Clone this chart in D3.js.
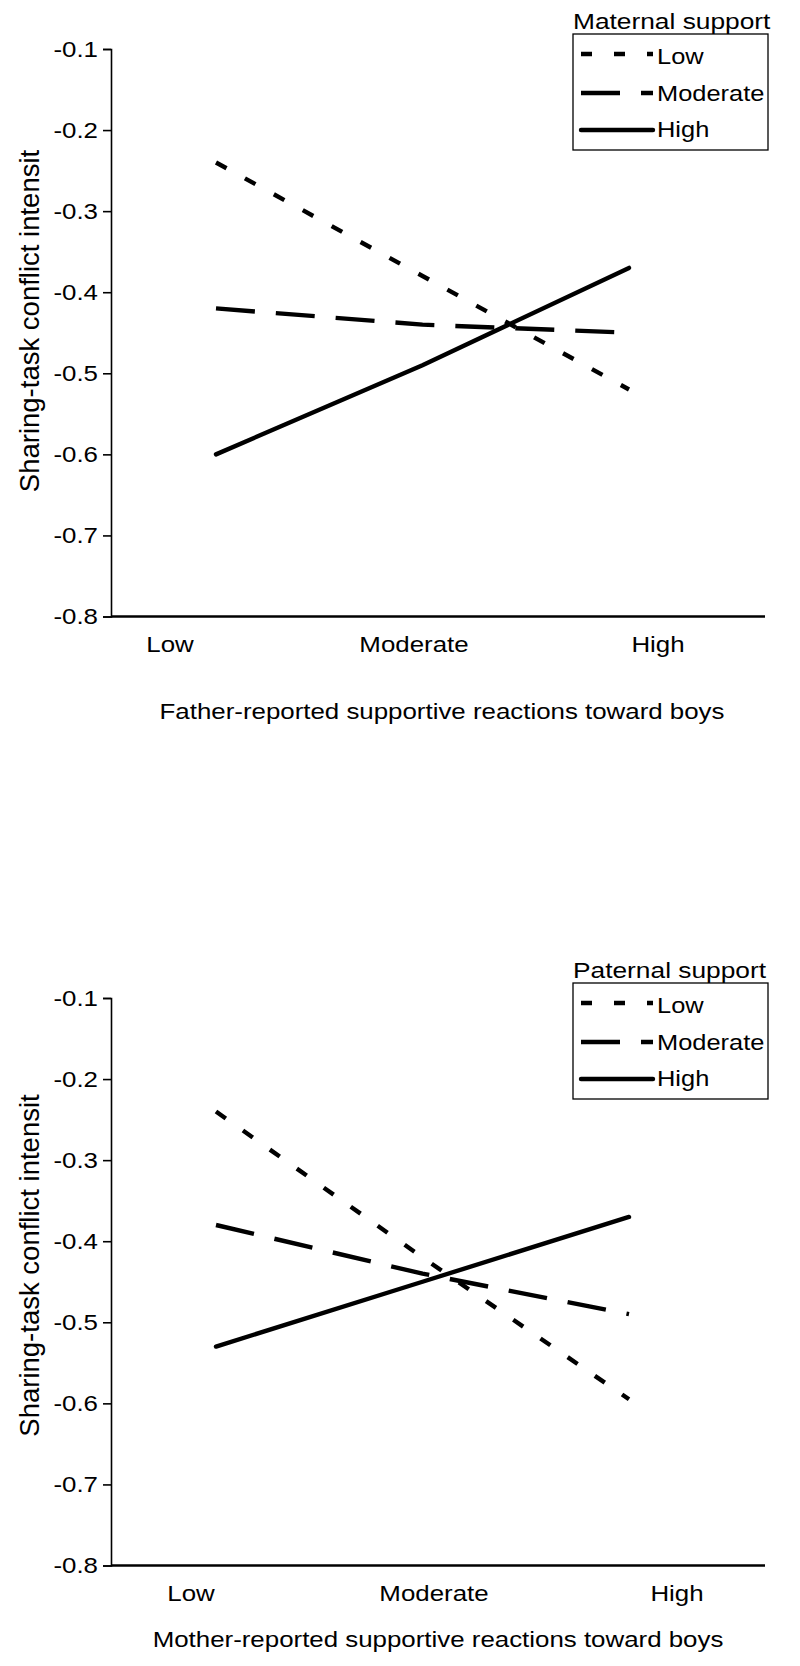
<!DOCTYPE html>
<html>
<head>
<meta charset="utf-8">
<script src="https://cdn.jsdelivr.net/npm/d3@7"></script>
<style>
  html, body { margin: 0; padding: 0; background: #fff; }
  svg { display: block; }
  text { font-family: "Liberation Sans", Arial, Helvetica, sans-serif; fill: #000; }
</style>
</head>
<body>
<svg id="chart" width="800" height="1666"></svg>
<script>
// ---------- data ----------
const categories = ["Low", "Moderate", "High"];
const yTickValues = [-0.1, -0.2, -0.3, -0.4, -0.5, -0.6, -0.7, -0.8];
const seriesNames = ["Low", "Moderate", "High"];

// Panel 1: Maternal support
const maternalLow = [-0.24, -0.38, -0.52];
const maternalModerate = [-0.42, -0.44, -0.45];
const maternalHigh = [-0.60, -0.49, -0.37];

// Panel 2: Paternal support
const paternalLow = [-0.24, -0.42, -0.595];
const paternalModerate = [-0.38, -0.44, -0.49];
const paternalHigh = [-0.53, -0.45, -0.37];

const yAxisTitle = "Sharing-task conflict intensit";
const xTitle1 = "Father-reported supportive reactions toward boys";
const xTitle2 = "Mother-reported supportive reactions toward boys";
const legendTitle1 = "Maternal support";
const legendTitle2 = "Paternal support";

// ---------- styling ----------
const dashStyles = { "Low": "12,21", "Moderate": "39,21", "High": null };
const SX = 1.15;          // horizontal stretch of horizontal text
const FS = 22.5;          // horizontal text size
const LINE_W = 4.4;

const svg = d3.select("#chart");
svg.append("rect").attr("width", 800).attr("height", 1666).attr("fill", "#fff");

function stretchedText(g, x, y, str, anchor, size, sx) {
  return g.append("g").attr("transform", `translate(${x},${y})`)
    .append("text")
    .attr("transform", `scale(${sx || SX},1)`)
    .attr("text-anchor", anchor)
    .attr("font-size", size || FS)
    .text(str);
}

function drawPanel(cfg) {
  const g = svg.append("g").attr("transform", `translate(0,${cfg.dy})`);

  const y = d3.scaleLinear().domain([-0.8, -0.1]).range([616.5, 49]);
  const xData = d3.scalePoint().domain(categories).range([216, 629]);
  const xLabel = d3.scalePoint().domain(categories).range(cfg.labelRange);

  // y axis
  const yAxis = d3.axisLeft(y).tickValues(yTickValues)
    .tickFormat(d => d.toFixed(1)).tickSize(8).tickPadding(6);
  const ya = g.append("g").attr("transform", "translate(111,0)").call(yAxis);
  ya.select(".domain").attr("stroke", "#000").attr("stroke-width", 1.6);
  ya.selectAll(".tick line").attr("stroke", "#000").attr("stroke-width", 1.6);
  ya.selectAll(".tick text")
    .attr("font-size", FS)
    .attr("font-family", "Liberation Sans, Arial, sans-serif")
    .attr("fill", "#000")
    .attr("x", -13 / SX)
    .attr("transform", `scale(${SX},1)`);

  // x axis line
  g.append("line")
    .attr("x1", 111).attr("x2", 765)
    .attr("y1", y(-0.8)).attr("y2", y(-0.8))
    .attr("stroke", "#000").attr("stroke-width", 2.6);

  // category labels
  categories.forEach(c => {
    stretchedText(g, xLabel(c), cfg.labelBaseline, c, "middle");
  });

  // x title
  stretchedText(g, cfg.titleX, cfg.titleBaseline, cfg.xTitle, "middle");

  // y title
  g.append("text")
    .attr("transform", `translate(39,${cfg.yTitleMid}) rotate(-90)`)
    .attr("text-anchor", "middle")
    .attr("font-size", 27.5)
    .text(yAxisTitle);

  // lines
  const line = d3.line().x((d, i) => xData(categories[i])).y(d => y(d));
  cfg.series.forEach((vals, i) => {
    const name = seriesNames[i];
    const p = g.append("path").datum(vals)
      .attr("d", line)
      .attr("fill", "none")
      .attr("stroke", "#000")
      .attr("stroke-width", LINE_W)
      .attr("stroke-linecap", name === "High" ? "round" : "butt");
    if (dashStyles[name]) p.attr("stroke-dasharray", dashStyles[name]);
  });

  // legend
  const LX = 573, LW = 195;
  const lg = g.append("g");
  stretchedText(lg, LX, 28.5, cfg.legendTitle, "start", 22.5, 1.17);
  lg.append("rect").attr("x", LX).attr("y", 34).attr("width", LW).attr("height", 116)
    .attr("fill", "none").attr("stroke", "#000").attr("stroke-width", 1.3);
  const rowLineY = [54, 93, 130];
  const rowBase = [64, 101, 137];
  seriesNames.forEach((name, i) => {
    const l = lg.append("line")
      .attr("x1", LX + 8).attr("x2", LX + 80)
      .attr("y1", rowLineY[i]).attr("y2", rowLineY[i])
      .attr("stroke", "#000").attr("stroke-width", LINE_W)
      .attr("stroke-linecap", name === "High" ? "round" : "butt");
    if (dashStyles[name]) l.attr("stroke-dasharray", name === "Low" ? "11,22" : "39,21");
    stretchedText(lg, LX + 84, rowBase[i], name, "start", 22.5, 1.13);
  });
}

drawPanel({
  dy: 0,
  labelRange: [170, 658],
  labelBaseline: 652,
  titleX: 442, titleBaseline: 719,
  xTitle: xTitle1,
  yTitleMid: 321,
  legendTitle: legendTitle1,
  series: [maternalLow, maternalModerate, maternalHigh]
});

drawPanel({
  dy: 949,
  labelRange: [191, 677],
  labelBaseline: 652,
  titleX: 438, titleBaseline: 698,
  xTitle: xTitle2,
  yTitleMid: 316.5,
  legendTitle: legendTitle2,
  series: [paternalLow, paternalModerate, paternalHigh]
});
</script>
</body>
</html>
